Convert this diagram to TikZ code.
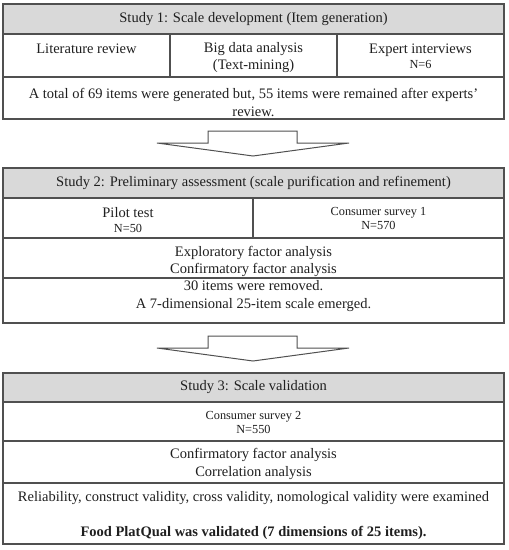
\documentclass[tikz,border=0pt]{standalone}
\usepackage{fontspec}
\setmainfont{Liberation Serif}
\usetikzlibrary{positioning}

\definecolor{hdrgray}{RGB}{217,217,217}
\definecolor{linegray}{RGB}{80,80,80}
\newcommand{\smallsz}{\fontsize{12.3}{14}\selectfont}

\begin{document}
\begin{tikzpicture}[x=1pt,y=-1pt,
	box/.style={draw=linegray, line width=1.3pt},
	hdr/.style={box, fill=hdrgray},
	txt/.style={font=\fontsize{14.5}{17.5}\selectfont, text=black!88, align=center, inner sep=0pt},
	small/.style={font=\smallsz, text=black!88, align=center, inner sep=0pt},
	blockarrow/.style={draw=linegray, line width=1pt, fill=white, line join=miter}]
	\useasboundingbox (0,0) rectangle (509,550);
	
	% Study 1
	\draw[hdr] (3,4) rectangle (504,34);
	\draw[box] (3,34) rectangle (504,119);
	\draw[box] (3,77) -- (504,77);
	\draw[box] (170,34) -- (170,77);
	\draw[box] (337,34) -- (337,77);
	
	\node[txt] (s1) at (253.5,19) {Study 1: Scale development (Item generation)};
	\node[txt] (lit) at (86.5,49) {Literature review};
	\node[txt] (big) at (253.5,57.5) {Big data analysis\\(Text-mining)};
	\node[txt] (expert) at (420.5,56.5) {Expert interviews\\[-3pt]{\smallsz N=6}};
	\node[txt] (total) at (253.5,102.5) {A total of 69 items were generated but, 55 items were remained after experts'\\review.};
	
	% % % % % % % % % % % % % % % % % % % % % % % % % %
	
	\draw[blockarrow] (208,131) -- (297,131) -- (297,143) -- (349,143) -- (253,156) -- (157,143) -- (208,143) -- cycle;
	
	% Study 2
	\draw[hdr] (3,168) rectangle (504,198);
	\draw[box] (3,198) rectangle (504,323);
	\draw[box] (3,238) -- (504,238);
	\draw[box] (3,278) -- (504,278);
	\draw[box] (253,198) -- (253,238);
	
	\node[txt] (s2) at (253.5,183) {Study 2: Preliminary assessment (scale purification and refinement)};
	\node[txt] (pilot) at (128,220) {Pilot test\\[-3pt]{\smallsz N=50}};
	\node[small] (survey1) at (378.5,218.5) {Consumer survey 1\\N=570};
	\node[txt] (efa) at (253.5,261.5) {Exploratory factor analysis\\Confirmatory factor analysis};
	\node[txt] (removed) at (253.5,296) {30 items were removed.\\A 7-dimensional 25-item scale emerged.};
	
	% % % % % % % % % % % % % % % % % % % % % % % % % %
	
	\draw[blockarrow] (208,336) -- (297,336) -- (297,348) -- (349,348) -- (253,361) -- (157,348) -- (208,348) -- cycle;
	
	% Study 3
	\draw[hdr] (3,373) rectangle (504,402);
	\draw[box] (3,402) rectangle (504,544);
	\draw[box] (3,441) -- (504,441);
	\draw[box] (3,483) -- (504,483);
	
	\node[txt] (s3) at (253.5,387.5) {Study 3: Scale validation};
	\node[small] (survey2) at (253.5,422.5) {Consumer survey 2\\N=550};
	\node[txt] (cfa) at (253.5,464) {Confirmatory factor analysis\\Correlation analysis};
	\node[txt] (valid) at (253.5,498) {Reliability, construct validity, cross validity, nomological validity were examined};
	\node[txt, font=\fontsize{14.5}{17.5}\selectfont\bfseries] (platqual) at (253.5,533) {Food PlatQual was validated (7 dimensions of 25 items).};
\end{tikzpicture}
\end{document}
